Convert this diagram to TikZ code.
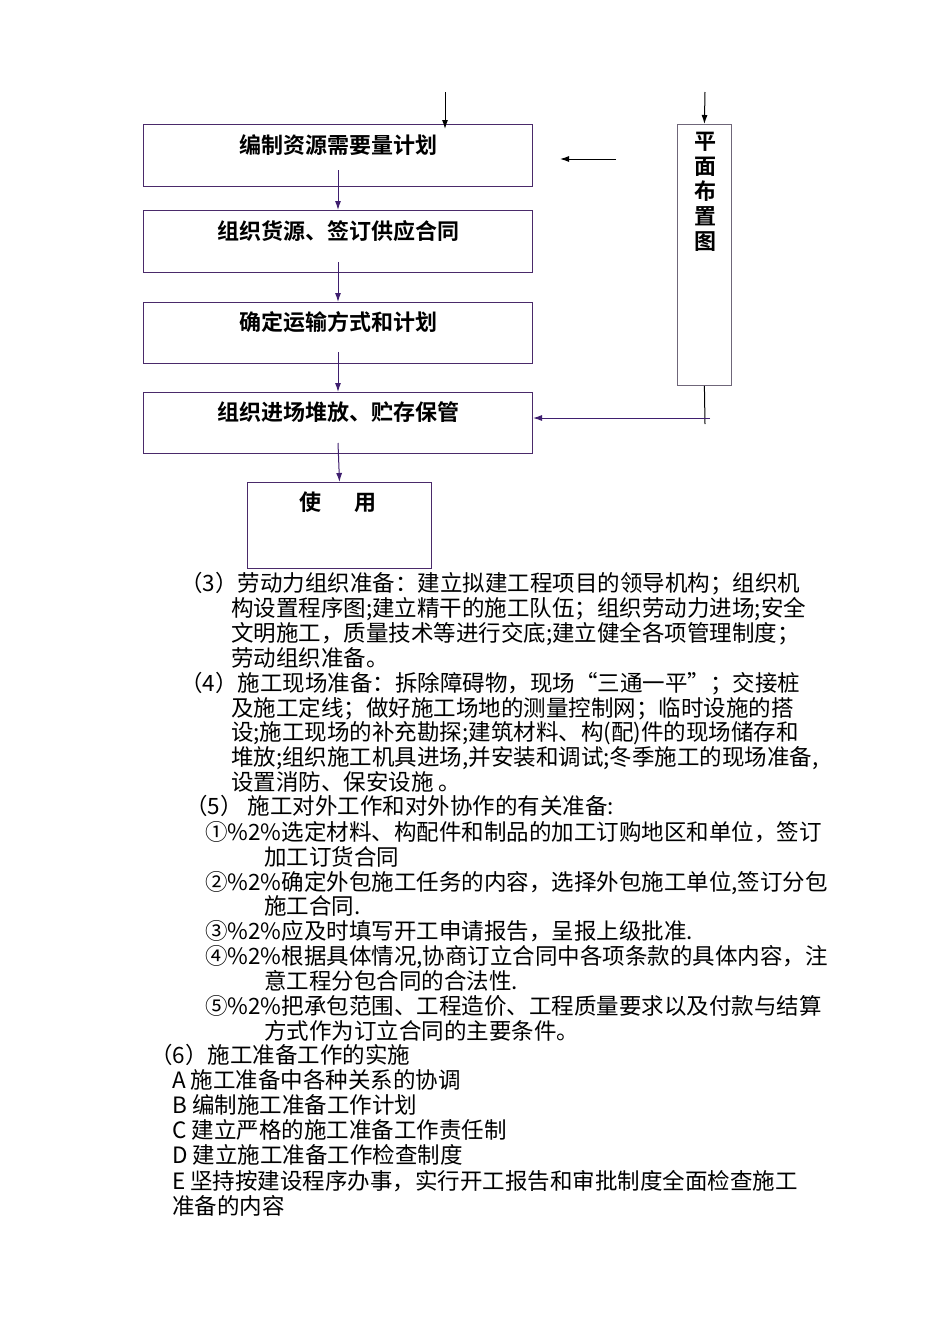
\documentclass[tikz,border=0pt]{standalone}
\usepackage{fontspec}
\usetikzlibrary{arrows.meta}
\setmainfont{Noto Sans CJK SC}
\newfontfamily\cjkb{Noto Sans CJK SC Bold}
\definecolor{pur}{HTML}{3F1F6F}
\definecolor{bx}{HTML}{4A2A6A}
\begin{document}
\begin{tikzpicture}[x=1pt,y=-1pt,
 boxst/.style={draw=bx,line width=1pt},
 arr/.style={-{Latex[length=9pt,width=6pt]},line width=1pt},
 ln/.style={anchor=base west,inner sep=0,font=\fontsize{22.5}{25}\selectfont},
 bt/.style={font=\cjkb\fontsize{22}{25}\selectfont,inner sep=0}]
\useasboundingbox (0,0) rectangle (950,1344);
\fill[white] (0,0) rectangle (950,1344);
\node[boxst,minimum width=389,minimum height=62,anchor=north west] (b1) at (143,124) {};
\node[boxst,minimum width=389,minimum height=62,anchor=north west] (b2) at (143,210) {};
\node[boxst,minimum width=389,minimum height=61,anchor=north west] (b3) at (143,302) {};
\node[boxst,minimum width=389,minimum height=61,anchor=north west] (b4) at (143,392) {};
\node[boxst,minimum width=184,minimum height=86,anchor=north west] (b5) at (247,482) {};
\node[draw=gray!70!bx,line width=0.8pt,minimum width=54,minimum height=261,anchor=north west] (r) at (677,124) {};
\node[bt] (t1) at (338,145) {编制资源需要量计划};
\node[bt] (t2) at (338,231) {组织货源、签订供应合同};
\node[bt] (t3) at (338,322) {确定运输方式和计划};
\node[bt] (t4) at (338,412) {组织进场堆放、贮存保管};
\node[bt] (t5) at (338,502) {使\hspace{1.5em}用};
\node[bt,align=center,font=\cjkb\fontsize{22}{25}\selectfont,anchor=north] (rt) at (705,132) {平\\面\\布\\置\\图};
\coordinate (a0) at (445,92);
\draw[arr] (a0) -- (445,129);
\coordinate (r0) at (705,92);
\draw[arr] (r0) -- (r.north);
\coordinate (h1) at (616,159); \coordinate (h2) at (560,159);
\draw[arr] (h1) -- (h2);
\draw[arr,pur] (338,170) -- (b2.north);
\draw[arr,pur] (338,262) -- (b3.north);
\draw[arr,pur] (338,352) -- (b4.north);
\draw[arr,pur] (338,443) -- (b5.north);
\coordinate (rj) at (705,418);
\draw[line width=1pt] (r.south) -- (705,424);
\draw[arr,pur] (710,418) -- (b4.east |- rj);
% text
\node[ln] at (180,591) {（3）劳动力组织准备：建立拟建工程项目的领导机构；组织机};
\node[ln] at (231,616) {构设置程序图;建立精干的施工队伍；组织劳动力进场;安全};
\node[ln] at (231,641) {文明施工，质量技术等进行交底;建立健全各项管理制度；};
\node[ln] at (231,666) {劳动组织准备。};
\node[ln] at (180,691) {（4）施工现场准备：拆除障碍物，现场“三通一平”；交接桩};
\node[ln] at (231,716) {及施工定线；做好施工场地的测量控制网；临时设施的搭};
\node[ln] at (231,740) {设;施工现场的补充勘探;建筑材料、构(配)件的现场储存和};
\node[ln] at (231,765) {堆放;组织施工机具进场,并安装和调试;冬季施工的现场准备,};
\node[ln] at (231,790) {设置消防、保安设施 。};
\node[ln] at (185,814) {（5） 施工对外工作和对外协作的有关准备:};
\node[ln] at (205,840) {①\%2\%选定材料、构配件和制品的加工订购地区和单位，签订};
\node[ln] at (264,865) {加工订货合同};
\node[ln] at (205,890) {②\%2\%确定外包施工任务的内容，选择外包施工单位,签订分包};
\node[ln] at (264,914) {施工合同.};
\node[ln] at (205,939) {③\%2\%应及时填写开工申请报告，呈报上级批准.};
\node[ln] at (205,964) {④\%2\%根据具体情况,协商订立合同中各项条款的具体内容，注};
\node[ln] at (264,989) {意工程分包合同的合法性.};
\node[ln] at (205,1014) {⑤\%2\%把承包范围、工程造价、工程质量要求以及付款与结算};
\node[ln] at (264,1039) {方式作为订立合同的主要条件。};
\node[ln] at (150,1063) {（6）施工准备工作的实施};
\node[ln] at (172,1088) {A 施工准备中各种关系的协调};
\node[ln] at (172,1113) {B 编制施工准备工作计划};
\node[ln] at (172,1138) {C 建立严格的施工准备工作责任制};
\node[ln] at (172,1163) {D 建立施工准备工作检查制度};
\node[ln] at (172,1189) {E 坚持按建设程序办事，实行开工报告和审批制度全面检查施工};
\node[ln] at (172,1214) {准备的内容};
\end{tikzpicture}
\end{document}
